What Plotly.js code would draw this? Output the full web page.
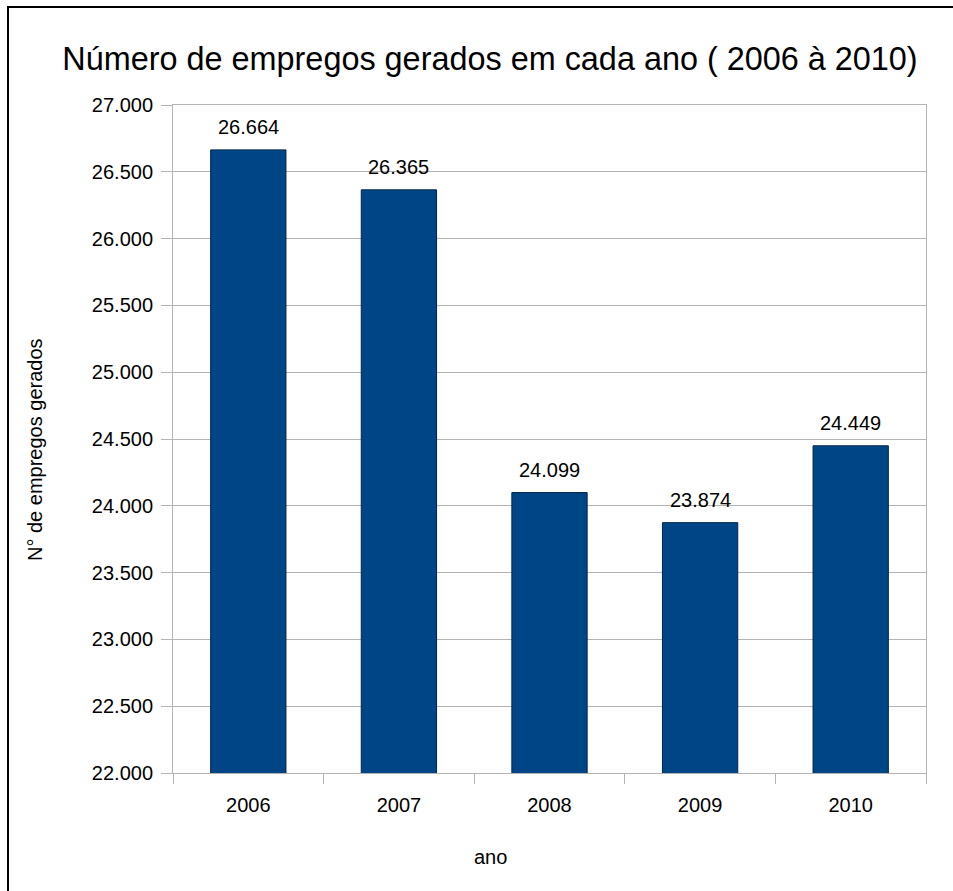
<!DOCTYPE html>
<html>
<head>
<meta charset="utf-8">
<script src="https://cdn.plot.ly/plotly-3.0.1.min.js"></script>
<style>
  html, body { margin: 0; padding: 0; background: #fff; }
  #wrap { position: relative; width: 953px; height: 891px; overflow: hidden; }
  #frame { position: absolute; left: 7px; top: 6px; width: 960px; height: 900px;
           border-left: 2px solid #000; border-top: 2px solid #000; pointer-events: none; }
  #chart { position: absolute; left: 0; top: 0; width: 953px; height: 891px; }
</style>
</head>
<body>
<div id="wrap">
  <div id="chart"></div>
  <div id="frame"></div>
</div>
<script>
const years = ['2006', '2007', '2008', '2009', '2010'];
const empregos = [26664, 26365, 24099, 23874, 24449];
const yTicks = [22000, 22500, 23000, 23500, 24000, 24500, 25000, 25500, 26000, 26500, 27000];

const FONT = 'Liberation Sans, Arial, sans-serif';
const W = 953, H = 891;
const FS = 20;

const trace = {
  type: 'bar',
  x: years,
  y: empregos,
  width: 0.5,
  marker: { color: '#004586', line: { color: '#00254a', width: 1 } },
  hoverinfo: 'skip'
};

// category axis: annotation positions given as category indices
const labels = years.map((yr, i) => ({
  x: i, y: empregos[i], xref: 'x', yref: 'y',
  text: empregos[i].toLocaleString('de-DE'),
  showarrow: false, yanchor: 'bottom', yshift: 10,
  font: { family: FONT, size: FS, color: '#000' }
}));

const layout = {
  width: W, height: H,
  margin: { l: 173, r: 27, t: 105, b: 118 },
  paper_bgcolor: 'rgba(0,0,0,0)',
  plot_bgcolor: '#fff',
  separators: ',.',
  showlegend: false,
  font: { family: FONT, size: FS, color: '#000' },
  title: {
    text: 'Número de empregos gerados em cada ano ( 2006 à 2010)',
    font: { family: FONT, size: 32.4, color: '#000' },
    xref: 'container', yref: 'container',
    x: 490 / W, y: 1 - 59 / H, xanchor: 'center', yanchor: 'middle'
  },
  xaxis: {
    type: 'category',
    categoryorder: 'array', categoryarray: years,
    range: [-0.5, years.length - 0.5],
    tickson: 'boundaries',
    ticks: 'outside', ticklen: 10, tickcolor: '#b3b3b3', tickwidth: 1,
    ticklabelstandoff: 14,
    showline: true, linecolor: '#b3b3b3', linewidth: 1, mirror: true,
    showgrid: false,
    tickangle: 0,
    tickfont: { family: FONT, size: FS, color: '#000' },
    fixedrange: true
  },
  yaxis: {
    range: [22000, 27000],
    tickvals: yTicks,
    tickformat: ',.0f',
    ticks: 'outside', ticklen: 11, tickcolor: '#b3b3b3', tickwidth: 1,
    ticklabelstandoff: 4,
    showline: true, linecolor: '#b3b3b3', linewidth: 1, mirror: true,
    showgrid: true, gridcolor: '#b3b3b3', gridwidth: 1,
    zeroline: false,
    tickfont: { family: FONT, size: FS, color: '#000' },
    fixedrange: true
  },
  annotations: labels.concat([
    { text: 'ano', xref: 'paper', yref: 'paper', showarrow: false,
      x: (490 - 173) / (W - 173 - 27), y: -(857 - 773) / (773 - 105),
      xanchor: 'center', yanchor: 'middle',
      font: { family: FONT, size: FS, color: '#000' } },
    { text: 'N° de empregos gerados', xref: 'paper', yref: 'paper', showarrow: false,
      x: (35 - 173) / (W - 173 - 27), y: (773 - 450) / (773 - 105),
      xanchor: 'center', yanchor: 'middle', textangle: -90,
      font: { family: FONT, size: FS, color: '#000' } }
  ])
};

Plotly.newPlot('chart', [trace], layout, { displayModeBar: false, staticPlot: true });
</script>
</body>
</html>
